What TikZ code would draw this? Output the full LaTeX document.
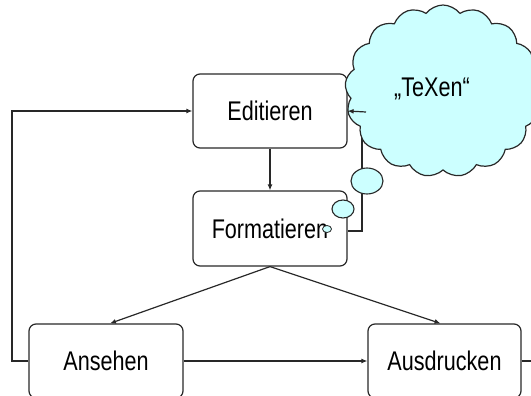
\documentclass[tikz,border=0pt]{standalone}
\usepackage{fontspec}
\setmainfont{Liberation Sans}[FakeStretch=0.8]
\usetikzlibrary{shapes.symbols,shapes.geometric,arrows.meta}
\definecolor{cloudc}{RGB}{204,255,255}
\definecolor{linec}{RGB}{40,40,40}
\begin{document}
\begin{tikzpicture}[x=1pt,y=-1pt,
  box/.style={draw=linec, line width=1.2pt, rounded corners=7pt, fill=white,
    minimum width=154pt, minimum height=74pt, inner sep=0pt,
    font=\fontsize{27}{32}\selectfont},
  conn/.style={draw=linec, line width=1.2pt},
  arr/.style={conn, -{Latex[length=6pt,width=5pt]}},
  bubble/.style={draw=linec, line width=1.1pt, fill=cloudc, ellipse, inner sep=0pt}
]
\path[use as bounding box, clip] (0,0) rectangle (531,396);

\node[box] (ed) at (270,111) {Editieren};
\node[box, minimum height=75pt] (fo) at (270,228.5) {Formatieren};
\node[box] (an) at (106,361) {Ansehen};
\node[box, minimum width=153pt] (au) at (444.5,361) {Ausdrucken};

\coordinate (loopl) at (12,361);
\coordinate (loopr) at (362,231);
\coordinate (outr) at (540,361);
\coordinate (stub) at (366,112);

\draw[arr] (ed.south) -- (fo.north);
\draw[arr] (fo.south) -- ([xshift=4pt]an.north);
\draw[arr] (fo.south) -- ([xshift=-4pt]au.north);
\draw[arr] (an.east) -- (au.west);
\draw[conn] (au.east) -- (outr);
\draw[arr] (an.west) -- (loopl) |- (ed.west);
\draw[conn] (fo.east |- loopr) -- (loopr) |- (stub);

\node[cloud, cloud puffs=17, cloud puff arc=105, cloud ignores aspect,
  minimum width=196pt, minimum height=172pt, draw=linec, line width=1.2pt,
  fill=cloudc] (cl) at (443,91) {};
\node[font=\fontsize{27}{32}\selectfont] (tx) at (432,89) {„TeXen“};

\node[bubble, minimum width=32pt, minimum height=26pt] (b1) at (367,181) {};
\node[bubble, minimum width=22pt, minimum height=18pt] (b2) at (343,209) {};
\node[bubble, line width=0.8pt, minimum width=9pt, minimum height=7pt] (b3) at (327,229) {};

\draw[arr] (stub) -- (ed.east);
\end{tikzpicture}
\end{document}
